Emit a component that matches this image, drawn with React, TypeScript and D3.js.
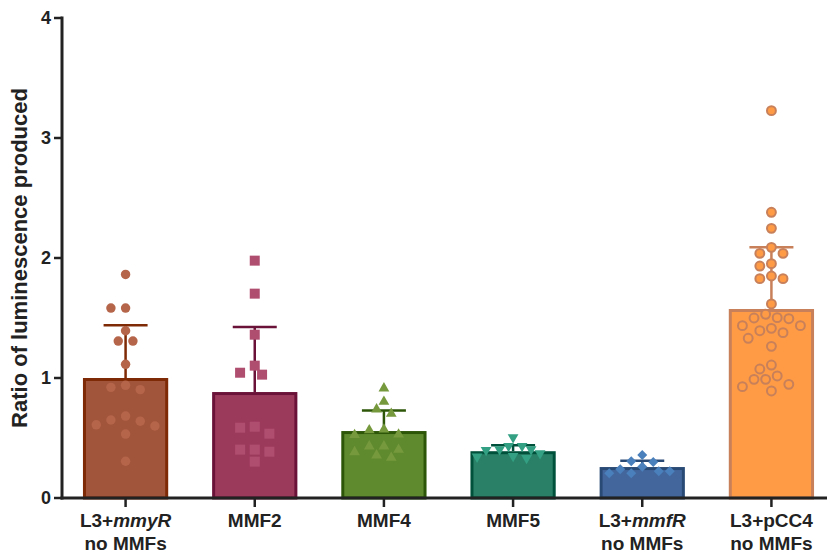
import React from "react";
import * as d3 from "d3";

const categories = ["L3+mmyR", "MMF2", "MMF4", "MMF5", "L3+mmfR", "L3+pCC4"];
const labelPlain = ["L3+", "MMF2", "MMF4", "MMF5", "L3+", "L3+pCC4"];
const labelItalic = ["mmyR", "", "", "", "mmfR", ""];
const labelLine2 = ["no MMFs", "", "", "", "no MMFs", "no MMFs"];

const means = [1.0, 0.883, 0.558, 0.39, 0.258, 1.575];
const upperSD = [1.44, 1.425, 0.73, 0.44, 0.31, 2.09];

const pts1 = [1.863, 1.583, 1.583, 1.394, 1.308, 1.308, 1.114, 0.939, 0.922, 0.903, 0.683, 0.65, 0.64, 0.61, 0.6, 0.533, 0.306];
const pts2 = [1.978, 1.703, 1.361, 1.103, 1.028, 1.044, 0.586, 0.594, 0.536, 0.403, 0.403, 0.386, 0.303];
const pts3 = [0.914, 0.803, 0.739, 0.703, 0.572, 0.565, 0.53, 0.525, 0.431, 0.431, 0.403, 0.383, 0.336, 0.356];
const pts4 = [0.506, 0.433, 0.433, 0.406, 0.406, 0.4, 0.372, 0.35, 0.344, 0.333];
const pts5 = [0.358, 0.3, 0.306, 0.261, 0.239, 0.222, 0.222, 0.206, 0.206];
const pts6 = [3.228, 2.381, 2.247, 2.089, 2.039, 2.039, 1.933, 1.953, 1.828, 1.828, 1.85, 1.617, 1.531, 1.5, 1.494, 1.503, 1.436, 1.436, 1.414, 1.378, 1.394, 1.331, 1.264, 1.108, 1.075, 0.989, 0.989, 1.017, 0.947, 0.928, 0.892];
const points = [pts1, pts2, pts3, pts4, pts5, pts6];

const barFill = ["#a1553b", "#9c3a5c", "#5f8a2e", "#2a8066", "#43679d", "#fe9b44"];
const barStroke = ["#7f2a06", "#6a1238", "#2d5609", "#00513c", "#2a4a76", "#c8805a"];
const ptFill = ["#b5654a", "#b04e70", "#76993d", "#33a083", "#4a80bb", "#fe9b44"];
const ptStroke = ["none", "none", "none", "none", "none", "#c8805a"];

const yTicks = [0, 1, 2, 3, 4];

const W = 827;
const H = 556;

function swarm(values: number[], cx: number, y: (v: number) => number, step: number, dmin: number) {
  const order = values.map((_, i) => i).sort((a, b) => values[b] - values[a]);
  const placed: { x: number; y: number }[] = [];
  const out: { x: number; y: number }[] = new Array(values.length);
  for (const i of order) {
    const py = y(values[i]);
    for (let k = 0; k < 80; k++) {
      const slot = k === 0 ? 0 : k % 2 === 1 ? -Math.ceil(k / 2) : Math.ceil(k / 2);
      const px = cx + slot * step;
      if (!placed.some((p) => (p.x - px) ** 2 + (p.y - py) ** 2 < dmin * dmin)) {
        placed.push({ x: px, y: py });
        out[i] = { x: px, y: py };
        break;
      }
    }
  }
  return out;
}

export default function App() {
  const x = d3.scaleBand<string>().domain(categories).range([61, 836]).padding(0);
  const y = d3.scaleLinear().domain([0, 4]).range([498, 18]);
  const bw = x.step() * 0.66;
  const font = "'Liberation Sans', Arial, Helvetica, sans-serif";

  const shapes = [
    d3.symbol(d3.symbolCircle, 70)(),
    d3.symbol(d3.symbolSquare, 100)(),
    d3.symbol(d3.symbolTriangle, 50)(),
    d3.symbol(d3.symbolTriangle, 50)(),
    d3.symbol(d3.symbolSquare, 50)(),
    d3.symbol(d3.symbolCircle, 62)(),
  ];
  const rot = [0, 0, 0, 180, 45, 0];
  const dmins = [10.5, 11, 10.5, 9.5, 10.5, 11.5];
  const steps = [7.33, 7.33, 7.33, 4.5, 5.5, 5.8];

  return (
    <svg width={W} height={H} style={{ position: "absolute", left: 0, top: 0, background: "#fff" }}>
      {categories.map((c, i) => {
        const cx = (x(c) as number) + x.bandwidth() / 2;
        const yTop = y(means[i]);
        const ySd = y(upperSD[i]);
        const pos = swarm(points[i], cx, y, steps[i], dmins[i]);
        return (
          <g key={c}>
            <rect
              x={cx - bw / 2 + 1.5}
              y={yTop + 1.5}
              width={bw - 3}
              height={y(0) - yTop - 1.5}
              fill={barFill[i]}
              stroke={barStroke[i]}
              strokeWidth={3}
            />
            <line x1={cx} x2={cx} y1={yTop} y2={ySd} stroke={barStroke[i]} strokeWidth={2.5} />
            <line x1={cx - 22} x2={cx + 22} y1={ySd} y2={ySd} stroke={barStroke[i]} strokeWidth={2.5} />
            {pos.map((p, j) => (
              <path
                key={j}
                d={shapes[i] as string}
                transform={`translate(${p.x},${p.y}) rotate(${rot[i]})`}
                fill={ptFill[i]}
                stroke={ptStroke[i]}
                strokeWidth={2}
              />
            ))}
          </g>
        );
      })}

      {/* Y axis */}
      <line x1={62} x2={62} y1={16.5} y2={499.5} stroke="#222" strokeWidth={3} />
      {yTicks.map((t) => (
        <g key={t}>
          <line x1={54} x2={62} y1={y(t)} y2={y(t)} stroke="#222" strokeWidth={2.5} />
          <text
            x={51}
            y={y(t)}
            dy="0.35em"
            textAnchor="end"
            fontFamily={font}
            fontWeight="bold"
            fontSize={18}
            fill="#222"
          >
            {t}
          </text>
        </g>
      ))}
      <text
        transform={`translate(27,${(y(0) + y(4)) / 2}) rotate(-90)`}
        textAnchor="middle"
        fontFamily={font}
        fontWeight="bold"
        fontSize={22}
        fill="#222"
      >
        Ratio of luminescence produced
      </text>

      {/* X axis */}
      <line x1={60.5} x2={827} y1={498} y2={498} stroke="#222" strokeWidth={3} />
      {categories.map((c, i) => {
        const cx = (x(c) as number) + x.bandwidth() / 2;
        return (
          <g key={"t" + c}>
            <line x1={cx} x2={cx} y1={498} y2={507} stroke="#222" strokeWidth={2.5} />
            <text x={cx} y={527} textAnchor="middle" fontFamily={font} fontWeight="bold" fontSize={19} fill="#222">
              <tspan>{labelPlain[i]}</tspan>
              {labelItalic[i] ? <tspan fontStyle="italic">{labelItalic[i]}</tspan> : null}
            </text>
            {labelLine2[i] ? (
              <text x={cx} y={550} textAnchor="middle" fontFamily={font} fontWeight="bold" fontSize={19} fill="#222">
                {labelLine2[i]}
              </text>
            ) : null}
          </g>
        );
      })}
    </svg>
  );
}
